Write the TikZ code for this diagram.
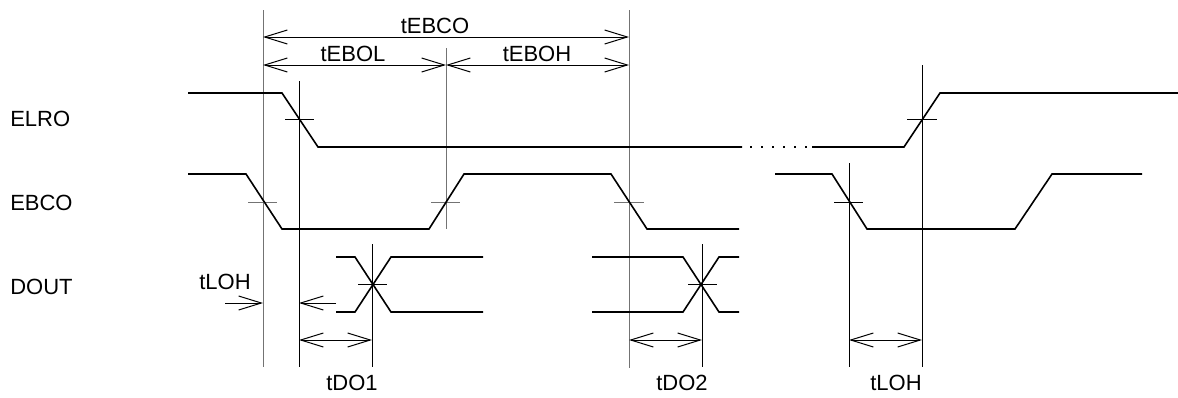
\documentclass[tikz,border=0pt]{standalone}
\usepackage{fontspec}
\setmainfont{Liberation Sans}
\usetikzlibrary{arrows.meta}

\tikzset{
  dimtip/.tip={Straight Barb[length=17pt,width=10.5pt,line width=0.75pt]},
  wave/.style={line width=1.2pt, line join=miter},
  refline/.style={line width=0.75pt, black!55},
  hairline/.style={line width=0.75pt},
  dimline/.style={line width=0.75pt, dimtip-dimtip},
  lbl/.style={font=\fontsize{16.5}{20}\selectfont, inner sep=0pt, anchor=base},
}

\begin{document}
\begin{tikzpicture}[x=0.75pt, y=-0.75pt]
        \useasboundingbox (0,0) rectangle (1178,397);

        % Signal names
        \node[lbl, anchor=base west] (elro) at (10,126) {ELRO};
        \node[lbl, anchor=base west] (ebco) at (10,210) {EBCO};
        \node[lbl, anchor=base west] (dout) at (10,294) {DOUT};

        % Reference lines
        \draw[refline] (263,10) -- (263,367);
        \draw[refline] (446,48) -- (446,229);
        \draw[refline] (629,10) -- (629,368);
        \draw[hairline] (299,81) -- (299,367);
        \draw[hairline] (372,244) -- (372,367);
        \draw[hairline] (702,244) -- (702,367);
        \draw[hairline] (849,163) -- (849,367);
        \draw[hairline] (922,65) -- (922,367);

        % Crossing marks
        \draw[hairline] (285,119) -- (314,119);
        \draw[hairline] (907,119) -- (937,119);
        \draw[refline] (248,202) -- (277,202);
        \draw[refline] (431,202) -- (460,202);
        \draw[refline] (614,202) -- (644,202);
        \draw[hairline] (834,202) -- (863,202);
        \draw[hairline] (358,284) -- (387,284);
        \draw[hairline] (688,284) -- (717,284);

        % ELRO
        \draw[wave] (188,93) -- (282,93) -- (318,147) -- (742,147);
        \draw[wave, dash pattern=on 1.5pt off 6.75pt] (750,147) -- (808,147);
        \draw[wave] (812,147) -- (904,147) -- (940,93) -- (1178,93);

        % EBCO
        \draw[wave] (188,174) -- (246,174) -- (282,229) -- (429,229)
                    -- (464,174) -- (611,174) -- (647,229) -- (739,229);
        \draw[wave] (775,174) -- (832,174) -- (867,229) -- (1015,229)
                    -- (1052,174) -- (1142,174);

        % DOUT
        \draw[wave] (336,257) -- (355,257) -- (391,312) -- (483,312);
        \draw[wave] (336,312) -- (355,312) -- (391,257) -- (483,257);
        \draw[wave] (592,257) -- (683,257) -- (719,312) -- (739,312);
        \draw[wave] (592,312) -- (683,312) -- (719,257) -- (739,257);

        % Timing dimensions
        \draw[dimline] (263,37) -- (629,37);
        \draw[dimline] (263,65) -- (446,65);
        \draw[dimline] (446,65) -- (629,65);
        \draw[hairline, -dimtip] (225,303) -- (263,303);
        \draw[hairline, -dimtip] (336,303) -- (299,303);
        \draw[dimline] (299,340) -- (372,340);
        \draw[dimline] (629,340) -- (702,340);
        \draw[dimline] (849,340) -- (922,340);

        % Timing labels
        \node[lbl] (tebco) at (435,33) {tEBCO};
        \node[lbl] (tebol) at (353,61) {tEBOL};
        \node[lbl] (teboh) at (537,61) {tEBOH};
        \node[lbl] (tloha) at (225,289) {tLOH};
        \node[lbl] (tdoa) at (352,390) {tDO1};
        \node[lbl] (tdob) at (682,390) {tDO2};
        \node[lbl] (tlohb) at (896,390) {tLOH};
\end{tikzpicture}
\end{document}
